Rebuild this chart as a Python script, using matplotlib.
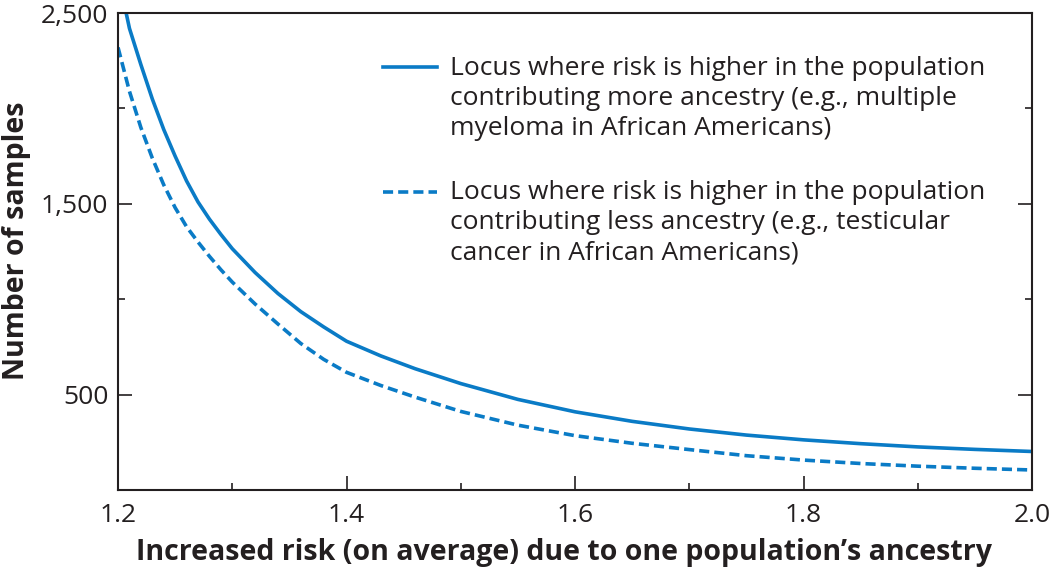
import matplotlib
matplotlib.use("Agg")
import matplotlib.pyplot as plt
from matplotlib.ticker import FixedLocator, FuncFormatter

plt.rcParams['font.family'] = ['Open Sans', 'DejaVu Sans']

# risk ratio (x) and number of samples needed for each locus type
risk_more = [1.20, 1.21, 1.22, 1.23, 1.24, 1.25, 1.26, 1.27, 1.28, 1.29, 1.30,
             1.32, 1.34, 1.36, 1.38, 1.40, 1.43, 1.46, 1.50, 1.55, 1.60,
             1.65, 1.70, 1.75, 1.80, 1.85, 1.90, 1.95, 2.00]
samples_more = [2700, 2420, 2230, 2050, 1890, 1750, 1620, 1510, 1420, 1340, 1265,
                1140, 1030, 935, 855, 780, 703, 636, 558, 475, 410,
                360, 320, 288, 263, 243, 226, 213, 202]

risk_less = [1.20, 1.21, 1.22, 1.23, 1.24, 1.25, 1.26, 1.27, 1.28, 1.29, 1.30,
             1.32, 1.34, 1.36, 1.38, 1.40, 1.43, 1.46, 1.50, 1.55, 1.60,
             1.65, 1.70, 1.75, 1.80, 1.85, 1.90, 1.95, 2.00]
samples_less = [2320, 2090, 1900, 1740, 1600, 1480, 1380, 1300, 1225, 1155, 1090,
                975, 870, 768, 685, 617, 548, 487, 412, 340, 285,
                245, 212, 180, 157, 139, 125, 114, 105]

label_more = ("Locus where risk is higher in the population\n"
              "contributing more ancestry (e.g., multiple\n"
              "myeloma in African Americans)")
label_less = ("Locus where risk is higher in the population\n"
              "contributing less ancestry (e.g., testicular\n"
              "cancer in African Americans)")

x_major = [1.2, 1.4, 1.6, 1.8, 2.0]
x_minor = [1.3, 1.5, 1.7, 1.9]
y_major = [500, 1500, 2500]
y_minor = [1000, 2000]

blue = '#0a7bc6'
ink = '#231f20'
fs = 19

fig = plt.figure(figsize=(10.5, 5.69), dpi=100)
ax = fig.add_axes([0.1124, 0.1388, 0.8705, 0.8382])

ax.plot(risk_more, samples_more, color=blue, lw=2.6, label=label_more)
ax.plot(risk_less, samples_less, color=blue, lw=2.6, linestyle=(0, (2.8, 1.4)),
        label=label_less)

ax.set_xlim(1.2, 2.0)
ax.set_ylim(0, 2500)
ax.xaxis.set_major_locator(FixedLocator(x_major))
ax.xaxis.set_minor_locator(FixedLocator(x_minor))
ax.yaxis.set_major_locator(FixedLocator(y_major))
ax.yaxis.set_minor_locator(FixedLocator(y_minor))
ax.xaxis.set_major_formatter(FuncFormatter(lambda v, p: f"{v:.1f}"))
ax.yaxis.set_major_formatter(FuncFormatter(lambda v, p: f"{int(v):,}"))

ax.tick_params(which='both', direction='in', right=True, top=False,
               width=1.2, color=ink, labelsize=fs, labelcolor=ink)
ax.tick_params(which='major', length=10)
ax.tick_params(axis='y', which='major', pad=7)
ax.tick_params(axis='x', which='major', pad=9)
ax.tick_params(which='minor', length=5)
for s in ax.spines.values():
    s.set_linewidth(1.5)
    s.set_color(ink)

ax.set_xlabel("Increased risk (on average) due to one population\u2019s ancestry",
              fontsize=20.5, fontweight='bold', color=ink)
ax.set_ylabel("Number of samples", fontsize=20.5, fontweight='bold', color=ink)
ax.xaxis.set_label_coords(0.488, -0.101)
ax.yaxis.set_label_coords(-0.095, 0.522)

leg = ax.legend(loc='upper left', bbox_to_anchor=(0.29, 0.91), frameon=False,
                fontsize=fs, handlelength=2.05, handletextpad=0.5,
                labelspacing=1.5, borderaxespad=0, borderpad=0)
for t in leg.get_texts():
    t.set_color(ink)
    t.set_linespacing(1.26)
# put each legend key on the first line of its label
for h in leg.get_lines():
    h.set_ydata([y + 1.2 * fs for y in h.get_ydata()])

fig.savefig("out.png", dpi=100)
